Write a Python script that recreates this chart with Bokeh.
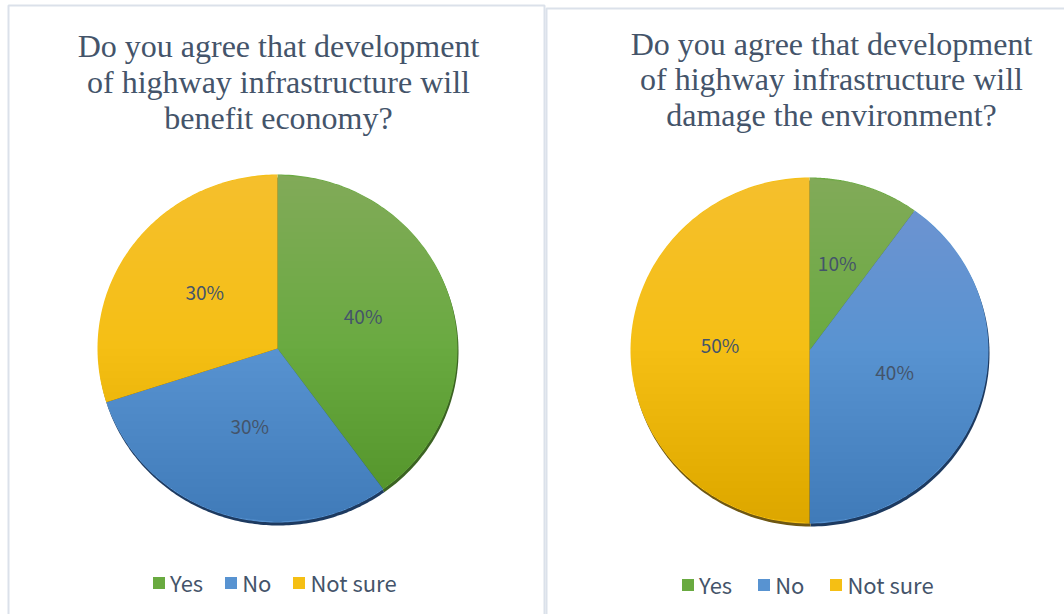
import numpy as np
from bokeh.plotting import figure
from bokeh.models import Range1d, ColumnDataSource, Legend, LegendItem
from bokeh.core.properties import value
from bokeh.embed import file_html
from bokeh.resources import INLINE

# ---- data ----
categories = ["Yes", "No", "Not sure"]
economy_values = [40, 30, 30]
environment_values = [10, 40, 50]
economy_title = ["Do you agree that development",
                 "of highway infrastructure will",
                 "benefit economy?"]
environment_title = ["Do you agree that development",
                     "of highway infrastructure will",
                     "damage the environment?"]

# ---- style ----
slice_colors = ["#69aa40", "#5893d1", "#f5bf14"]
shadow_colors = ["#3b6322", "#1d3a60", "#6e5712"]
TEXT_COLOR = "#44546a"
BORDER = "#dbe1ea"

W, H = 1064, 614
p = figure(width=W, height=H, x_range=Range1d(0, W), y_range=Range1d(H, 0),
           output_backend="svg", toolbar_location=None, min_border=0,
           x_axis_type=None, y_axis_type=None)
p.grid.visible = False
p.outline_line_color = None
p.background_fill_color = "white"
p.border_fill_color = "white"

# panel frames
p.quad(left=[8, 546], right=[544, 1080], top=[5, 8], bottom=[630, 630],
       fill_color="white", line_color=BORDER, line_width=2)


def arc_pts(cx, cy, rx, ry, a0, a1, n=120):
    t = np.linspace(a0, a1, n)
    return cx + rx * np.sin(t), cy - ry * np.cos(t)


def draw_pie(cx, cy, rx, ry, values, title_lines, title_cx, title_ys,
             legend_x, legend_y, legend_spacing):
    vals = np.asarray(values, dtype=float)
    cum = np.concatenate([[0], np.cumsum(vals)]) / vals.sum() * 2 * np.pi

    # shadow
    sxs, sys_ = [], []
    for i in range(len(vals)):
        ax, ay = arc_pts(cx + 1, cy + 3, rx, ry, cum[i], cum[i + 1])
        sxs.append(np.concatenate([[cx + 1], ax]).tolist())
        sys_.append(np.concatenate([[cy + 3], ay]).tolist())
    p.patches(xs=sxs, ys=sys_, fill_color=shadow_colors, line_color=None)

    xs, ys = [], []
    for i in range(len(vals)):
        ax, ay = arc_pts(cx, cy, rx, ry, cum[i], cum[i + 1])
        xs.append(np.concatenate([[cx], ax]).tolist())
        ys.append(np.concatenate([[cy], ay]).tolist())
    src = ColumnDataSource(dict(xs=xs, ys=ys, color=slice_colors, label=categories))
    r = p.patches(xs="xs", ys="ys", fill_color="color", line_color=None, source=src)

    # soft vertical shading (light top, darker bottom)
    N = 24
    cxs, cys, calpha, ccol = [], [], [], []
    for k in range(N):
        f = (k + 1) / N
        yy = np.linspace(cy - ry, cy - ry + f * ry, 30)
        half = rx * np.sqrt(np.clip(1 - ((yy - cy) / ry) ** 2, 0, 1))
        cxs.append(np.concatenate([cx - half, (cx + half)[::-1]]).tolist())
        cys.append(np.concatenate([yy, yy[::-1]]).tolist())
        calpha.append(0.15 / N)
        ccol.append("white")
        yy = np.linspace(cy + ry - f * ry, cy + ry, 30)
        half = rx * np.sqrt(np.clip(1 - ((yy - cy) / ry) ** 2, 0, 1))
        cxs.append(np.concatenate([cx - half, (cx + half)[::-1]]).tolist())
        cys.append(np.concatenate([yy, yy[::-1]]).tolist())
        calpha.append(0.08 / N)
        ccol.append("black")
    p.patches(xs=cxs, ys=cys, fill_color=ccol, fill_alpha=calpha, line_color=None)

    # data labels
    mid = (cum[:-1] + cum[1:]) / 2
    lx = cx + 0.5 * rx * np.sin(mid)
    ly = cy - 0.5 * ry * np.cos(mid)
    p.text(x=lx.tolist(), y=ly.tolist(), text=[f"{int(v)}%" for v in vals],
           text_align="center", text_baseline="middle", y_offset=-6,
           text_font=value("Noto Sans CJK SC"), text_font_size="19px",
           text_color=TEXT_COLOR)

    # title
    p.text(x=[title_cx] * len(title_lines), y=title_ys, text=title_lines,
           text_align="center", text_baseline="middle",
           text_font=value("Liberation Serif"), text_font_size="32px",
           text_color=TEXT_COLOR)

    legend = Legend(items=[LegendItem(label=c, renderers=[r], index=i)
                           for i, c in enumerate(categories)],
                    location=(legend_x, legend_y), orientation="horizontal",
                    glyph_width=15, glyph_height=15, label_standoff=4,
                    spacing=legend_spacing,
                    padding=0, margin=0, border_line_alpha=0,
                    background_fill_alpha=0,
                    label_text_font="Noto Sans CJK SC", label_text_font_size="22px",
                    label_text_color=TEXT_COLOR)
    p.add_layout(legend)


draw_pie(277, 348, 180, 174, economy_values, economy_title, 278, [45, 81, 117], 151, 16, 20)
draw_pie(809, 350, 179, 173, environment_values, environment_title, 831, [43, 78, 114], 680, 14, 24)

open("out.html", "w").write(file_html(p, INLINE))
